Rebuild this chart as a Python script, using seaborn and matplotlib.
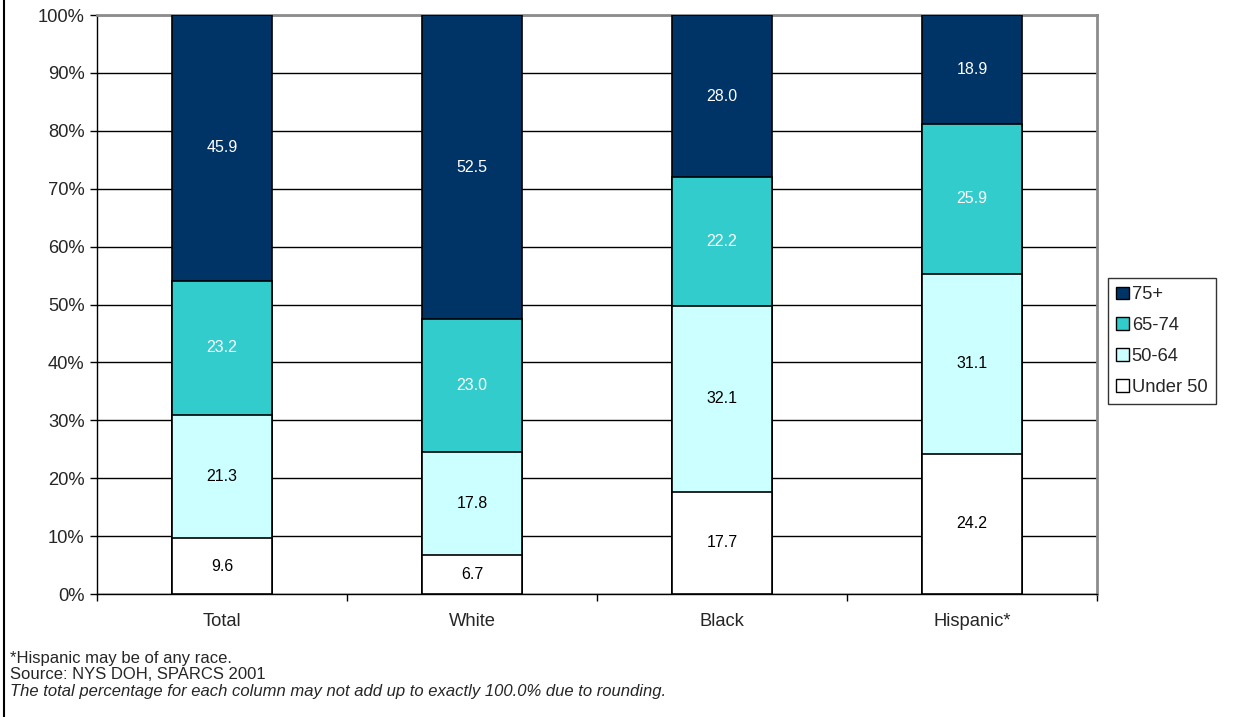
import numpy as np
import pandas as pd
import seaborn as sns
import matplotlib.pyplot as plt
from matplotlib.lines import Line2D
from matplotlib.patches import Patch
from matplotlib.ticker import FixedLocator

groups = ["Total", "White", "Black", "Hispanic*"]
age_bands = ["Under 50", "50-64", "65-74", "75+"]
under_50 = [9.6, 6.7, 17.7, 24.2]
age_50_64 = [21.3, 17.8, 32.1, 31.1]
age_65_74 = [23.2, 23.0, 22.2, 25.9]
age_75_plus = [45.9, 52.5, 28.0, 18.9]

colors = ["#FFFFFF", "#CCFFFF", "#33CCCC", "#003366"]
text_colors = ["black", "black", "white", "white"]

sns.set_theme(style="white")
plt.rcParams["font.family"] = ["Liberation Sans", "DejaVu Sans"]

fig = plt.figure(figsize=(12.33, 7.17), dpi=100)
ax = fig.add_axes([0.0787, 0.1715, 0.811, 0.8075])

series = [under_50, age_50_64, age_65_74, age_75_plus]
vals = np.array(series)
cum = np.cumsum(vals, axis=0)

# draw cumulative heights from the top layer down so lower layers sit in front
for i in range(len(series) - 1, -1, -1):
    df = pd.DataFrame({"group": groups, "value": np.minimum(cum[i], 100)})
    sns.barplot(data=df, x="group", y="value", color=colors[i], saturation=1,
                width=0.4, edgecolor="black", linewidth=1.2, ax=ax, zorder=3)

for i in range(len(series)):
    for j in range(len(groups)):
        lo = cum[i][j] - vals[i][j]
        hi = min(cum[i][j], 100)
        ax.text(j, (lo + hi) / 2, f"{vals[i][j]:.1f}", ha="center", va="center",
                fontsize=11.5, color=text_colors[i], zorder=5)

ax.set_ylim(0, 100)
ax.set_xlim(-0.5, 3.5)
ax.set_yticks(np.arange(0, 101, 10))
ax.set_yticklabels([f"{v}%" for v in range(0, 101, 10)], fontsize=13.2)
ax.set_xticklabels(groups, fontsize=13.2)
ax.xaxis.set_minor_locator(FixedLocator([-0.5, 0.5, 1.5, 2.5, 3.5]))
ax.tick_params(axis="x", which="major", length=0, pad=14)
ax.tick_params(axis="x", which="minor", length=5, width=1, color="black", direction="out", bottom=True)
ax.tick_params(axis="y", length=5, width=1, color="black", direction="out", left=True, pad=4)
ax.set_xlabel("")
ax.set_ylabel("")
ax.yaxis.grid(True, color="black", linewidth=1)
ax.set_axisbelow(True)

for side in ["left", "bottom"]:
    ax.spines[side].set_color("black")
    ax.spines[side].set_linewidth(1)
for side in ["top", "right"]:
    ax.spines[side].set_color("#8C8C8C")
    ax.spines[side].set_linewidth(2)

handles = [Patch(facecolor=colors[i], edgecolor="black", linewidth=1) for i in range(3, -1, -1)]
labels = [age_bands[i] for i in range(3, -1, -1)]
leg = fig.legend(handles, labels, loc="upper left", bbox_to_anchor=(0.8986, 0.612),
                 bbox_transform=fig.transFigure, fontsize=13.2, frameon=True, fancybox=False,
                 handlelength=0.7, handleheight=0.7, handletextpad=0.15,
                 labelspacing=0.75, borderpad=0.45, borderaxespad=0)
leg.get_frame().set_edgecolor("black")
leg.get_frame().set_linewidth(1)

fig.add_artist(Line2D([0.003, 0.003], [0, 1], color="black", linewidth=1.5, transform=fig.transFigure))

fig.text(0.008, 0.082, "*Hispanic may be of any race.", fontsize=12, va="center")
fig.text(0.008, 0.059, "Source: NYS DOH, SPARCS 2001", fontsize=12, va="center")
fig.text(0.008, 0.036, "The total percentage for each column may not add up to exactly 100.0% due to rounding.",
         fontsize=12, va="center", style="italic")

fig.savefig("out.png", dpi=100)
